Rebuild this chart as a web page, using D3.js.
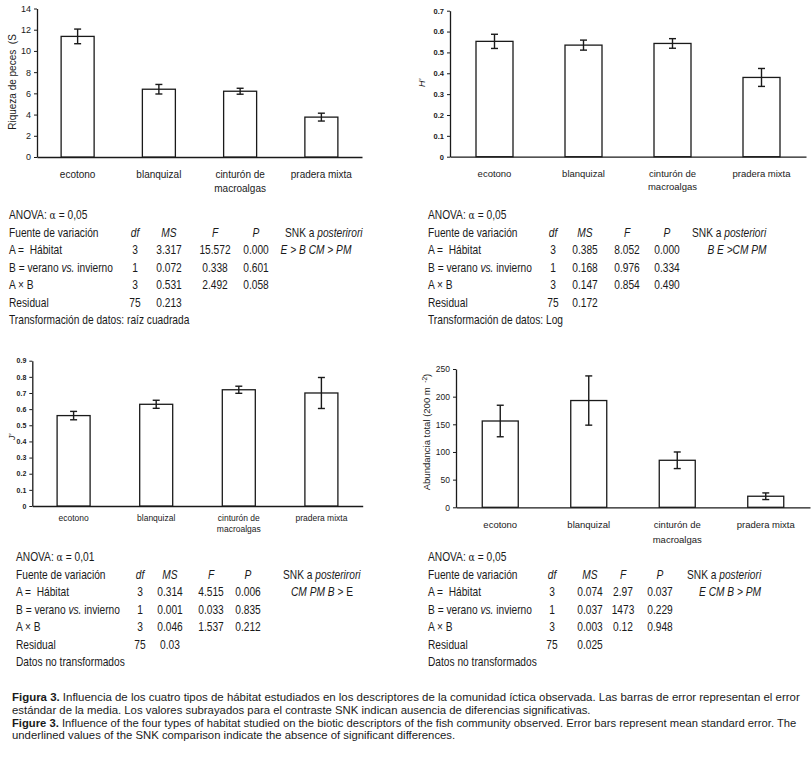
<!DOCTYPE html>
<html>
<head>
<meta charset="utf-8">
<script src="https://cdn.jsdelivr.net/npm/d3@7"></script>
<style>
  body { margin: 0; background: #fff; }
  svg { display: block; }
  text { white-space: pre; }
</style>
</head>
<body>
<svg id="fig"></svg>
<script>
// categories shared by the four panels
const habitats = ["ecotono", "blanquizal", "cinturón de macroalgas", "pradera mixta"]

// means and standard errors
const riqueza = [11.37, 6.39, 6.2, 3.76]
const riquezaSE = [0.69, 0.45, 0.28, 0.37]
const shannon = [0.553, 0.535, 0.543, 0.38]
const shannonSE = [0.034, 0.024, 0.023, 0.043]
const pielou = [0.56, 0.63, 0.72, 0.70]
const pielouSE = [0.026, 0.025, 0.022, 0.096]
const abundancia = [156, 193, 85, 20]
const abundanciaSE = [28.5, 44.5, 15, 6]

// y tick values
const riquezaTicks = [0, 2, 4, 6, 8, 10, 12, 14]
const shannonTicks = [0, 0.1, 0.2, 0.3, 0.4, 0.5, 0.6, 0.7]
const pielouTicks = [0, 0.1, 0.2, 0.3, 0.4, 0.5, 0.6, 0.7, 0.8, 0.9]
const abundanciaTicks = [0, 50, 100, 150, 200, 250]

// ANOVA tables
const sources = ["A =  Hábitat", "B = verano vs. invierno", "A × B", "Residual"]
const dfs = ["3", "1", "3", "75"]
const msRiqueza = ["3.317", "0.072", "0.531", "0.213"]
const fRiqueza = ["15.572", "0.338", "2.492", ""]
const pRiqueza = ["0.000", "0.601", "0.058", ""]
const msShannon = ["0.385", "0.168", "0.147", "0.172"]
const fShannon = ["8.052", "0.976", "0.854", ""]
const pShannon = ["0.000", "0.334", "0.490", ""]
const msPielou = ["0.314", "0.001", "0.046", "0.03"]
const fPielou = ["4.515", "0.033", "1.537", ""]
const pPielou = ["0.006", "0.835", "0.212", ""]
const msAbund = ["0.074", "0.037", "0.003", "0.025"]
const fAbund = ["2.97", "1473", "0.12", ""]
const pAbund = ["0.037", "0.229", "0.948", ""]

const captionLines = [
  ["Figura 3.", " Influencia de los cuatro tipos de hábitat estudiados en los descriptores de la comunidad íctica observada. Las barras de error representan el error"],
  ["", "estándar de la media. Los valores subrayados para el contraste SNK indican ausencia de diferencias significativas."],
  ["Figure 3.", " Influence of the four types of habitat studied on the biotic descriptors of the fish community observed. Error bars represent mean standard error. The"],
  ["", "underlined values of the SNK comparison indicate the absence of significant differences."]
]

const svg = d3.select("#fig")
  .attr("width", 812)
  .attr("height", 762)

const ink = "#1a1a1a"
const sans = "Liberation Sans, Arial, sans-serif"
// no narrow font installed, so squeeze the table text horizontally
const squeeze = 0.85

function barPanel(o) {
  const g = svg.append("g")
  const x = d3.scaleBand().domain(habitats).range([o.x0, o.x1])
  const y = d3.scaleLinear().domain([0, o.max]).range([o.yBot, o.yTop])

  // y axis
  const yAxis = g.append("g")
    .attr("transform", `translate(${o.x0},0)`)
    .call(d3.axisLeft(y).tickValues(o.ticks).tickFormat(o.fmt).tickSize(3).tickSizeOuter(0))
  yAxis.select(".domain").attr("stroke", ink).attr("stroke-width", 1.3)
  yAxis.selectAll(".tick line").attr("stroke", ink)
  yAxis.selectAll(".tick text")
    .attr("font-family", sans)
    .attr("font-size", o.tickFont).attr("font-weight", o.tickWeight || "normal")
    .attr("fill", ink).attr("x", -6)

  // x axis, no ticks
  const xAxis = g.append("g")
    .attr("transform", `translate(0,${o.yBot})`)
    .call(d3.axisBottom(x).tickSize(0).tickSizeOuter(0).tickFormat(""))
  xAxis.select(".domain").attr("stroke", ink).attr("stroke-width", 1.3)

  // category labels (cinturón wraps)
  const lab = g.selectAll(".cat").data(habitats).join("text")
    .attr("class", "cat")
    .attr("x", d => x(d) + x.bandwidth() / 2)
    .attr("y", o.yBot + o.catOff)
    .attr("text-anchor", "middle")
    .attr("font-family", sans)
    .attr("font-size", o.catFont)
    .attr("fill", ink)
  lab.selectAll("tspan")
    .data(d => d === "cinturón de macroalgas" ? ["cinturón de", "macroalgas"] : [d])
    .join("tspan")
    .attr("x", function () { return d3.select(this.parentNode).attr("x") })
    .attr("dy", (d, i) => i === 0 ? "0.35em" : o.catStep)
    .text(d => d)

  // bars
  g.selectAll(".bar").data(habitats).join("rect")
    .attr("x", (d, i) => x(d) + x.bandwidth() / 2 - o.barW / 2)
    .attr("width", o.barW)
    .attr("y", (d, i) => y(o.means[i]))
    .attr("height", (d, i) => o.yBot - y(o.means[i]))
    .attr("fill", "#fff")
    .attr("stroke", ink)
    .attr("stroke-width", 1.3)

  // error bars
  const eb = g.selectAll(".err").data(habitats).join("g")
    .attr("transform", d => `translate(${x(d) + x.bandwidth() / 2},0)`)
  eb.append("line")
    .attr("y1", (d, i) => y(o.means[i] - o.ses[i]))
    .attr("y2", (d, i) => y(o.means[i] + o.ses[i]))
    .attr("stroke", ink).attr("stroke-width", 1.4)
  ;[-1, 1].forEach(s => {
    eb.append("line")
      .attr("x1", -3.5).attr("x2", 3.5)
      .attr("y1", (d, i) => y(o.means[i] + s * o.ses[i]))
      .attr("y2", (d, i) => y(o.means[i] + s * o.ses[i]))
      .attr("stroke", ink).attr("stroke-width", 1.4)
  })

  // y label
  const yl = g.append("text")
    .attr("transform", `translate(${o.ylx},${o.yly}) rotate(-90)`)
    .attr("text-anchor", "middle")
    .attr("dy", "0.35em")
    .attr("font-family", sans)
    .attr("font-size", o.ylFont)
    .attr("fill", ink)
  o.ylabel.forEach(part => {
    const t = yl.append("tspan").text(part.t)
    if (part.i) t.attr("font-style", "italic")
    if (part.sup) t.attr("baseline-shift", "super").attr("font-size", o.ylFont * 0.7)
  })
}

const fmt1 = d => d === 0 ? "0" : d3.format(".1f")(d)

barPanel({ x0: 37, x1: 362, yTop: 8.5, yBot: 157, max: 14, ticks: riquezaTicks, fmt: d3.format("d"),
  means: riqueza, ses: riquezaSE, barW: 33, tickFont: 9, catFont: 10, catOff: 17, catStep: 14,
  ylx: 12, yly: 82, ylFont: 10, ylabel: [{ t: "Riqueza de peces  (S" }] })

barPanel({ x0: 450, x1: 806, yTop: 10.7, yBot: 156.7, max: 0.7, ticks: shannonTicks, fmt: fmt1,
  means: shannon, ses: shannonSE, barW: 37, tickFont: 7.5, tickWeight: "bold", catFont: 9.5, catOff: 16.5, catStep: 13,
  ylx: 422, yly: 83, ylFont: 9, ylabel: [{ t: "H'", i: true }] })

barPanel({ x0: 32.3, x1: 362.7, yTop: 360.7, yBot: 506, max: 0.9, ticks: pielouTicks, fmt: fmt1,
  means: pielou, ses: pielouSE, barW: 33, tickFont: 7, tickWeight: "bold", catFont: 8.5, catOff: 12, catStep: 11,
  ylx: 12, yly: 437, ylFont: 9, ylabel: [{ t: "J'", i: true }] })

barPanel({ x0: 456, x1: 810, yTop: 369, yBot: 507.3, max: 250, ticks: abundanciaTicks, fmt: d3.format("d"),
  means: abundancia, ses: abundanciaSE, barW: 36, tickFont: 8.5, catFont: 9.5, catOff: 17, catStep: 15,
  ylx: 427, yly: 432, ylFont: 9.5, ylabel: [{ t: "Abundancia total (200 m " }, { t: " -2", sup: true }, { t: ")" }] })

// ANOVA tables
function anovaTable(o) {
  const g = svg.append("g").attr("font-family", sans).attr("font-size", 12).attr("fill", ink)
  const rowY = i => o.y + i * 17.5
  const txt = (x, i, anchor) => g.append("text")
    .attr("transform", `translate(${x},${rowY(i)}) scale(${squeeze},1)`)
    .attr("dy", "0.35em")
    .attr("text-anchor", anchor || "start")

  const h = txt(o.lx, 0)
  h.append("tspan").text("ANOVA: ")
  h.append("tspan").attr("font-family", "DejaVu Serif, serif").attr("font-size", 11).text("α")
  h.append("tspan").text(" = " + o.alpha)

  txt(o.lx, 1).text("Fuente de variación")
  ;[["df", o.cols[0]], ["MS", o.cols[1]], ["F", o.cols[2]], ["P", o.cols[3]]].forEach(([t, cx]) =>
    txt(cx, 1, "middle").attr("font-style", "italic").text(t))
  const sh = txt(o.snkX, 1)
  sh.append("tspan").text("SNK a ")
  sh.append("tspan").attr("font-style", "italic").text(o.post)

  sources.forEach((s, i) => {
    const t = txt(o.lx, i + 2)
    if (s.includes("vs.")) {
      t.append("tspan").text("B = verano ")
      t.append("tspan").attr("font-style", "italic").text("vs.")
      t.append("tspan").text(" invierno")
    } else t.text(s)
    txt(o.cols[0], i + 2, "middle").text(dfs[i])
    txt(o.cols[1], i + 2, "middle").text(o.ms[i])
    txt(o.cols[2], i + 2, "middle").text(o.f[i])
    txt(o.cols[3], i + 2, "middle").text(o.p[i])
  })

  const snk = txt(o.snkC, 2, "middle")
  o.snk.forEach(part => {
    const t = snk.append("tspan").text(part.t)
    if (part.i) t.attr("font-style", "italic")
  })
  txt(o.lx, 6).text(o.note)
}

anovaTable({ lx: 9, y: 215, alpha: "0,05", cols: [135, 169, 215, 256], snkX: 285, snkC: 316, post: "posterirori",
  ms: msRiqueza, f: fRiqueza, p: pRiqueza, snk: [{ t: "E > B CM > PM", i: true }],
  note: "Transformación de datos: raíz cuadrada" })

anovaTable({ lx: 428, y: 215, alpha: "0,05", cols: [553, 585, 627, 667], snkX: 692, snkC: 737, post: "posteriori",
  ms: msShannon, f: fShannon, p: pShannon, snk: [{ t: "B E >CM PM", i: true }],
  note: "Transformación de datos: Log" })

anovaTable({ lx: 16, y: 557, alpha: "0,01", cols: [140, 170, 211, 248], snkX: 283, snkC: 322, post: "posterirori",
  ms: msPielou, f: fPielou, p: pPielou, snk: [{ t: "CM PM B", i: true }, { t: " > E" }],
  note: "Datos no transformados" })

anovaTable({ lx: 428, y: 557, alpha: "0,05", cols: [552, 590, 623, 660], snkX: 687, snkC: 730, post: "posteriori",
  ms: msAbund, f: fAbund, p: pAbund, snk: [{ t: "E CM B > PM", i: true }],
  note: "Datos no transformados" })

// caption, each line squeezed to the width it has in the figure
const capY = [697, 710, 723, 735]
const capW = [788, 579, 785, 444]
captionLines.forEach((line, i) => {
  const t = svg.append("text")
    .attr("dy", "0.35em")
    .attr("font-family", sans)
    .attr("font-size", 11).attr("fill", ink)
  if (line[0]) t.append("tspan").attr("font-weight", "bold").text(line[0])
  t.append("tspan").text(line[1])
  const k = capW[i] / t.node().getComputedTextLength()
  t.attr("transform", `translate(12,${capY[i]}) scale(${k},1)`)
})
</script>
</body>
</html>
